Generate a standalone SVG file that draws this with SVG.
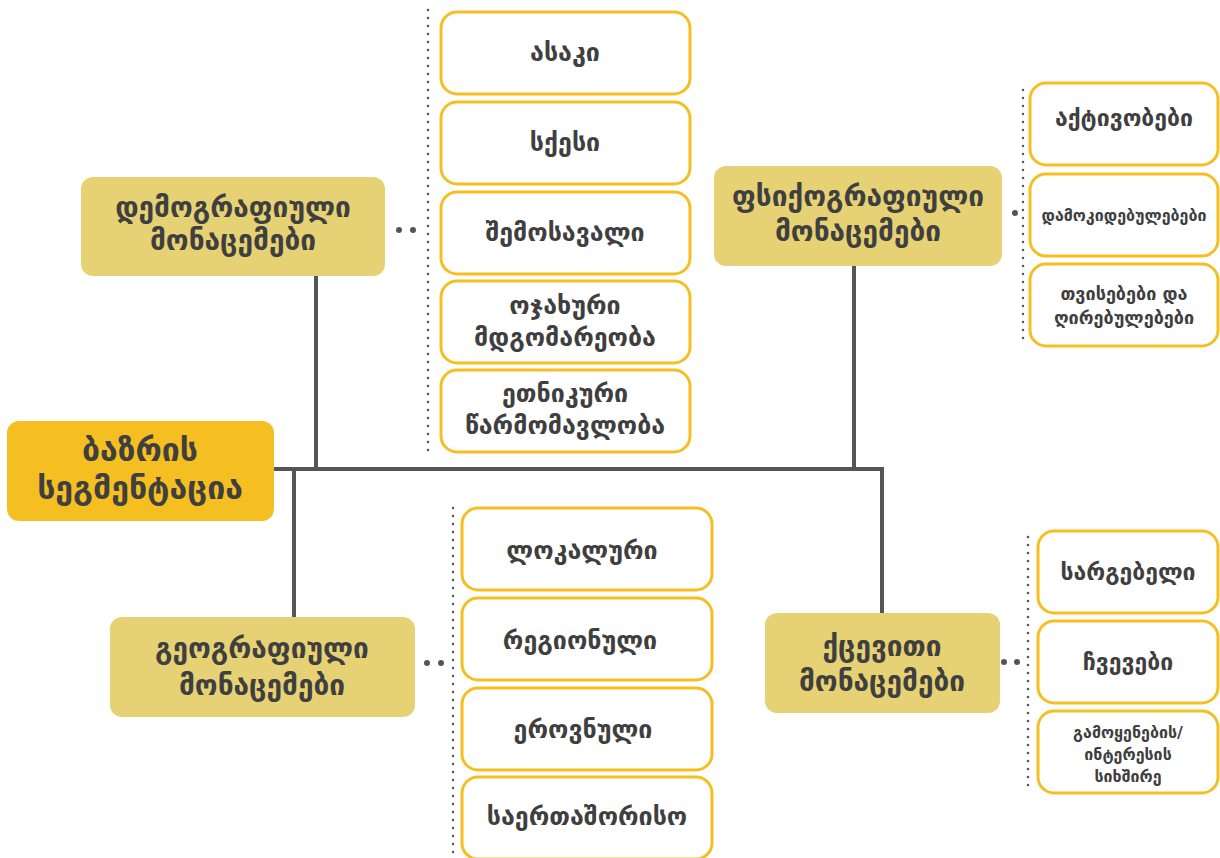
<svg xmlns="http://www.w3.org/2000/svg" width="1220" height="858" viewBox="0 0 1220 858">
<style>
.main{fill:#F5BF22}
.cat{fill:#E6D274}
.item{fill:#fff;stroke:#F5BF22;stroke-width:3}
text{font-family:"DejaVu Sans","Noto Sans",sans-serif;font-weight:bold;fill:#3f3f3f;text-anchor:middle;dominant-baseline:central}
.t1{font-size:32px}
.t2{font-size:28px}
.t3{font-size:25px}
.t4{font-size:16px}
.t5{font-size:18px}
.t6{font-size:23px}
.t7{font-size:16px}
.line{stroke:#555;stroke-width:4;fill:none}
.dot{stroke:#555;stroke-width:2.5;stroke-dasharray:0 8;stroke-linecap:round;fill:none}
.bd{fill:#555}
</style>
<rect width="1220" height="858" fill="#fff"/>
<g id="connectors">
<path class="line" d="M274 469H884M316 469V276M854 469V266M294 469V617M882 469V613"/>
<path class="dot" d="M428 10V455M1023 90V342M453 508V858M1028 537V790"/>
<circle class="bd" cx="399" cy="230" r="3"/><circle class="bd" cx="413" cy="230" r="3"/>
<circle class="bd" cx="1015" cy="213" r="3"/>
<circle class="bd" cx="427" cy="663" r="3"/><circle class="bd" cx="441" cy="663" r="3"/>
<circle class="bd" cx="1004" cy="662" r="3"/><circle class="bd" cx="1017" cy="662" r="3"/>
</g>
<g id="n-main"><rect class="main" x="7" y="421" width="267" height="100" rx="12"/>
<text class="t1" x="140" y="450">ბაზრის</text><text class="t1" x="140" y="488">სეგმენტაცია</text></g>
<g id="n-demo"><rect class="cat" x="81" y="177" width="304" height="99" rx="12"/>
<text class="t2" x="233" y="207">დემოგრაფიული</text><text class="t2" x="233" y="240">მონაცემები</text></g>
<g id="n-asaki"><rect class="item" x="441" y="12" width="249" height="82" rx="16"/><text class="t3" x="565" y="52">ასაკი</text></g>
<g id="n-sqesi"><rect class="item" x="441" y="102" width="249" height="82" rx="16"/><text class="t3" x="565" y="142">სქესი</text></g>
<g id="n-shemosavali"><rect class="item" x="441" y="192" width="249" height="82" rx="16"/><text class="t3" x="565" y="232">შემოსავალი</text></g>
<g id="n-ojaxuri"><rect class="item" x="441" y="281" width="249" height="82" rx="16"/><text class="t3" x="565" y="305">ოჯახური</text><text class="t3" x="565" y="337">მდგომარეობა</text></g>
<g id="n-etnikuri"><rect class="item" x="441" y="370" width="249" height="82" rx="16"/><text class="t3" x="565" y="393">ეთნიკური</text><text class="t3" x="565" y="425">წარმომავლობა</text></g>
<g id="n-psycho"><rect class="cat" x="714" y="166" width="288" height="100" rx="12"/>
<text class="t2" x="858" y="196">ფსიქოგრაფიული</text><text class="t2" x="858" y="231">მონაცემები</text></g>
<g id="n-aqtivobebi"><rect class="item" x="1030" y="83" width="188" height="82" rx="16"/><text class="t6" x="1124" y="118">აქტივობები</text></g>
<g id="n-damokidebulebebi"><rect class="item" x="1030" y="174" width="188" height="82" rx="16"/><text class="t4" x="1124" y="215">დამოკიდებულებები</text></g>
<g id="n-tvisebebi"><rect class="item" x="1030" y="264" width="188" height="82" rx="16"/><text class="t5" x="1124" y="293">თვისებები და</text><text class="t5" x="1124" y="317">ღირებულებები</text></g>
<g id="n-geo"><rect class="cat" x="110" y="617" width="305" height="100" rx="12"/>
<text class="t2" x="262" y="648">გეოგრაფიული</text><text class="t2" x="262" y="685">მონაცემები</text></g>
<g id="n-lokaluri"><rect class="item" x="462" y="508" width="250" height="82" rx="16"/><text class="t3" x="582" y="550">ლოკალური</text></g>
<g id="n-regionuli"><rect class="item" x="462" y="598" width="250" height="82" rx="16"/><text class="t3" x="580" y="640">რეგიონული</text></g>
<g id="n-erovnuli"><rect class="item" x="462" y="688" width="250" height="82" rx="16"/><text class="t3" x="583" y="729">ეროვნული</text></g>
<g id="n-saertashoriso"><rect class="item" x="462" y="777" width="250" height="82" rx="16"/><text class="t3" x="587" y="816">საერთაშორისო</text></g>
<g id="n-behav"><rect class="cat" x="765" y="613" width="235" height="100" rx="12"/>
<text class="t2" x="882" y="646">ქცევითი</text><text class="t2" x="882" y="681">მონაცემები</text></g>
<g id="n-sargebeli"><rect class="item" x="1038" y="531" width="180" height="82" rx="16"/><text class="t6" x="1128" y="572">სარგებელი</text></g>
<g id="n-chvevebi"><rect class="item" x="1038" y="621" width="180" height="82" rx="16"/><text class="t6" x="1128" y="662">ჩვევები</text></g>
<g id="n-gamoyenebis"><rect class="item" x="1038" y="711" width="180" height="82" rx="16"/><text class="t7" x="1128" y="732">გამოყენების/</text><text class="t7" x="1128" y="754">ინტერესის</text><text class="t7" x="1128" y="776">სიხშირე</text></g>
</svg>
